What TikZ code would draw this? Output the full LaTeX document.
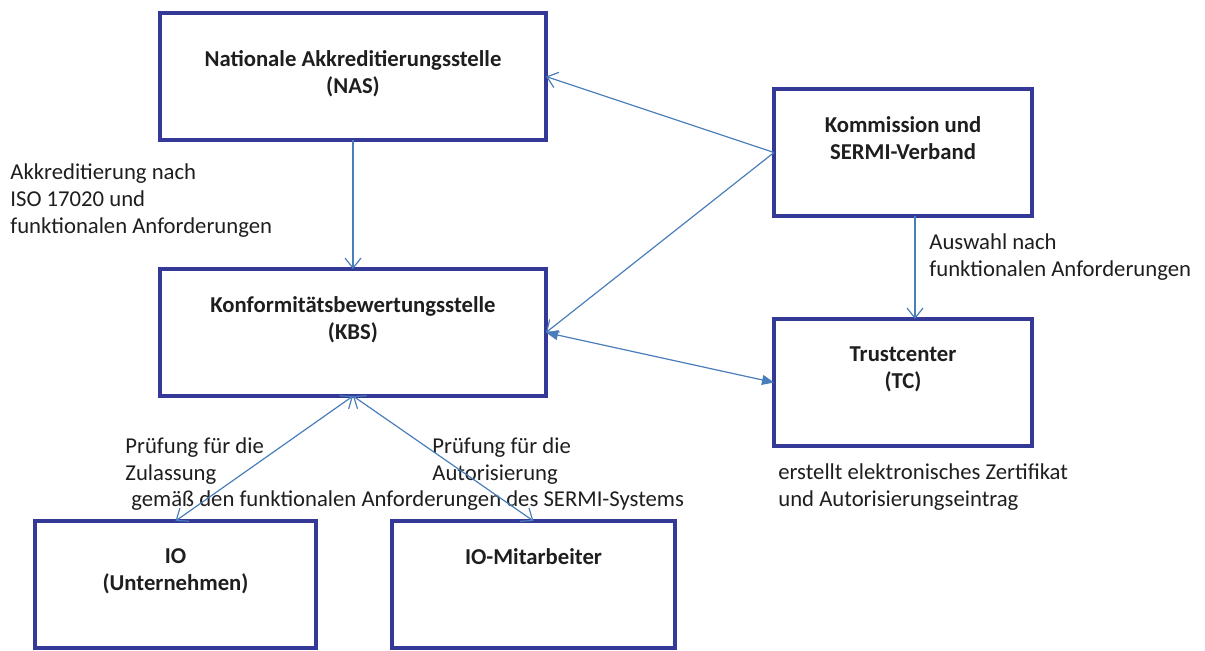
\documentclass[tikz,border=0pt]{standalone}
\usepackage{fontspec}
\setmainfont{Carlito}
\usetikzlibrary{positioning,arrows.meta}
\definecolor{boxblue}{RGB}{52,56,150}
\definecolor{arrowblue}{RGB}{74,126,187}
\definecolor{textgray}{RGB}{30,30,30}
\newcommand{\lblfont}{\fontsize{11.35pt}{13.5pt}\selectfont}

\begin{document}
\begin{tikzpicture}[every node/.style={align=center, text=textgray, font=\lblfont},
  stelle/.style={rectangle, draw=boxblue, line width=2pt, outer sep=0pt, anchor=north west, minimum height=63.5pt},
  titel/.style={anchor=north, yshift=-13.5pt, inner sep=0pt, font=\lblfont\bfseries},
  hinweis/.style={anchor=west, align=left, inner sep=0pt},
  pfeil/.style={draw=arrowblue, line width=0.6pt, -{Straight Barb[length=5pt,width=8pt]}},
  opfeil/.style={draw=arrowblue, line width=0.6pt, {Straight Barb[length=5pt,width=8pt]}-{Straight Barb[length=5pt,width=8pt]}},
  dpfeil/.style={draw=arrowblue, line width=0.6pt, {Triangle[length=6pt,width=5pt]}-{Triangle[length=6pt,width=5pt]}}]
				\useasboundingbox (0,0) rectangle (602.5pt,-325pt);

				% Nodes
				\node (nas) [stelle, minimum width=193pt, label={[titel, yshift=-5pt]north:{Nationale Akkreditierungsstelle\\(NAS)}}] at (80pt,-6.5pt) {};
				\node (kbs) [stelle, minimum width=193pt, below=64.5pt of nas, label={[titel]north:{Konformitätsbewertungsstelle\\(KBS)}}] {};
				\node (kom) [stelle, minimum width=129pt, label={[titel]north:{Kommission und\\SERMI-Verband}}] at (387pt,-44.5pt) {};
				\node (tc) [stelle, minimum width=129pt, below=51.5pt of kom, label={[titel]north:{Trustcenter\\(TC)}}] {};
				\node (io) [stelle, minimum width=140.5pt, label={[titel]north:{IO\\(Unternehmen)}}] at (17.5pt,-260.5pt) {};
				\node (iom) [stelle, minimum width=141.5pt, label={[titel]north:{IO-Mitarbeiter}}] at (196pt,-260.5pt) {};

				% Texts
				\node (akk) [hinweis] at (5pt,-100.5pt) {Akkreditierung nach\\ISO 17020 und\\funktionalen Anforderungen};
				\node (ausw) [hinweis] at (464.5pt,-128.5pt) {Auswahl nach\\funktionalen Anforderungen};
				\node (zert) [hinweis] at (389pt,-243.5pt) {erstellt elektronisches Zertifikat\\und Autorisierungseintrag};
				\node (pz) [hinweis] at (62.5pt,-230.5pt) {Prüfung für die\\Zulassung};
				\node (pa) [hinweis] at (216pt,-230.5pt) {Prüfung für die\\Autorisierung};
				\node (gem) [hinweis] at (65.5pt,-250.5pt) {gemäß den funktionalen Anforderungen des SERMI-Systems};

				% Arrows
				\draw[pfeil] (nas) -- (kbs);
				\draw[pfeil] (kom.west) -- (nas.east);
				\draw[pfeil] (kom.west) -- (kbs.east);
				\draw[pfeil] ([xshift=6pt]kom.south) -- ([xshift=6pt]tc.north);
				\draw[dpfeil] (kbs.east) -- (tc.west);
				\draw[opfeil] (kbs.south) -- (io.north);
				\draw[opfeil] (kbs.south) -- (iom.north);
			\end{tikzpicture}
\end{document}
